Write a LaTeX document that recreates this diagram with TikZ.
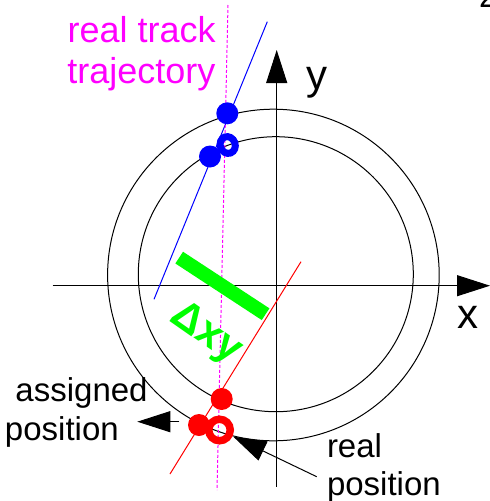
\documentclass[tikz,border=0pt]{standalone}
\usepackage{fontspec}
\setmainfont{Liberation Sans}
\usetikzlibrary{arrows.meta,shapes.geometric}
\definecolor{mag}{RGB}{255,0,255}
\definecolor{grn}{RGB}{0,255,0}
\tikzset{
  thinline/.style={line width=1pt},
  bigtip/.style={-{Triangle[length=33pt,width=21pt]}},
  lbl/.style={inner sep=0pt, outer sep=0pt},
  dot/.style={circle, inner sep=0pt, minimum size=22pt},
  trackdash/.style={draw=mag, line width=1pt, dash pattern=on 3pt off 2pt},
}
\begin{document}
\begin{tikzpicture}[x=1pt,y=-1pt]
\useasboundingbox (0,0) rectangle (490,501);
% detector circles
\draw[thinline] (273.4,275) circle[radius=165.8];
\draw[thinline] (275.8,274.2) circle[radius=137.5];
% axes
\coordinate (xa) at (52.7,285.7);
\coordinate (xb) at (490,285.7);
\coordinate (ya) at (276.7,486.7);
\coordinate (yb) at (276.7,50);
\draw[thinline, bigtip] (xa) -- (xb);
\draw[thinline, bigtip] (ya) -- (yb);
% tracks
\coordinate (bl1) at (267.3,21.7);
\coordinate (bl2) at (154,299.3);
\draw[blue, thinline] (bl1) -- (bl2);
\coordinate (rl1) at (301,261.7);
\coordinate (rl2) at (170,474);
\draw[red, thinline] (rl1) -- (rl2);
\coordinate (m1) at (228,5);
\coordinate (m2) at (217,490);
\draw[trackdash] (m1) -- (m2);
% green bar
\coordinate (g1) at (179.2,257.6);
\coordinate (g2) at (265.6,314.2);
\draw[grn, line width=14pt] (g1) -- (g2);
\node[lbl, text=grn, font=\fontsize{42}{48}\selectfont\bfseries, rotate=-35] (dxy) at (206,334) {Δxy};
% blue points
\node[dot, fill=blue] (b1) at (227.3,113.3) {};
\node[dot, fill=blue] (b2) at (210,156.5) {};
\node[ellipse, draw=blue, line width=7pt, inner sep=0pt, minimum width=15pt, minimum height=17pt, rotate=20] (bring) at (227.7,145) {};
% red points
\node[dot, fill=red] (r1) at (221.7,399) {};
\node[dot, fill=red] (r2) at (199,425) {};
\node[circle, draw=red, line width=7.5pt, inner sep=0pt, minimum size=21.5pt] (rring) at (219.5,430) {};
% annotation arrows
\coordinate (aa1) at (179.3,421.7);
\coordinate (aa2) at (137.3,421.7);
\draw[thinline, bigtip] (aa1) -- (aa2);
\coordinate (ra1) at (316.7,476.7);
\coordinate (ra2) at (233.3,436.7);
\draw[thinline, bigtip] (ra1) -- (ra2);
% labels
\node[lbl, text=mag, anchor=base west, font=\fontsize{36}{41}\selectfont] (rt1) at (67.7,42.3) {real track};
\node[lbl, text=mag, anchor=base west, font=\fontsize{36}{41}\selectfont] (rt2) at (67.4,83) {trajectory};
\node[lbl, anchor=base, font=\fontsize{42}{48}\selectfont] (ylab) at (317,89) {y};
\node[lbl, anchor=base, font=\fontsize{42}{48}\selectfont] (xlab) at (468,328.3) {x};
\node[lbl, anchor=base west, font=\fontsize{33}{38}\selectfont] (as1) at (15.5,401.7) {assigned};
\node[lbl, anchor=base west, font=\fontsize{33}{38}\selectfont] (as2) at (5,440) {position};
\node[lbl, anchor=base west, font=\fontsize{33}{38}\selectfont] (rp1) at (327,457.7) {real};
\node[lbl, anchor=base west, font=\fontsize{33}{38}\selectfont] (rp2) at (327,495) {position};
\node[lbl, anchor=base west, font=\fontsize{33}{38}\selectfont] (pagenum) at (479,7.5) {2};
\end{tikzpicture}
\end{document}
